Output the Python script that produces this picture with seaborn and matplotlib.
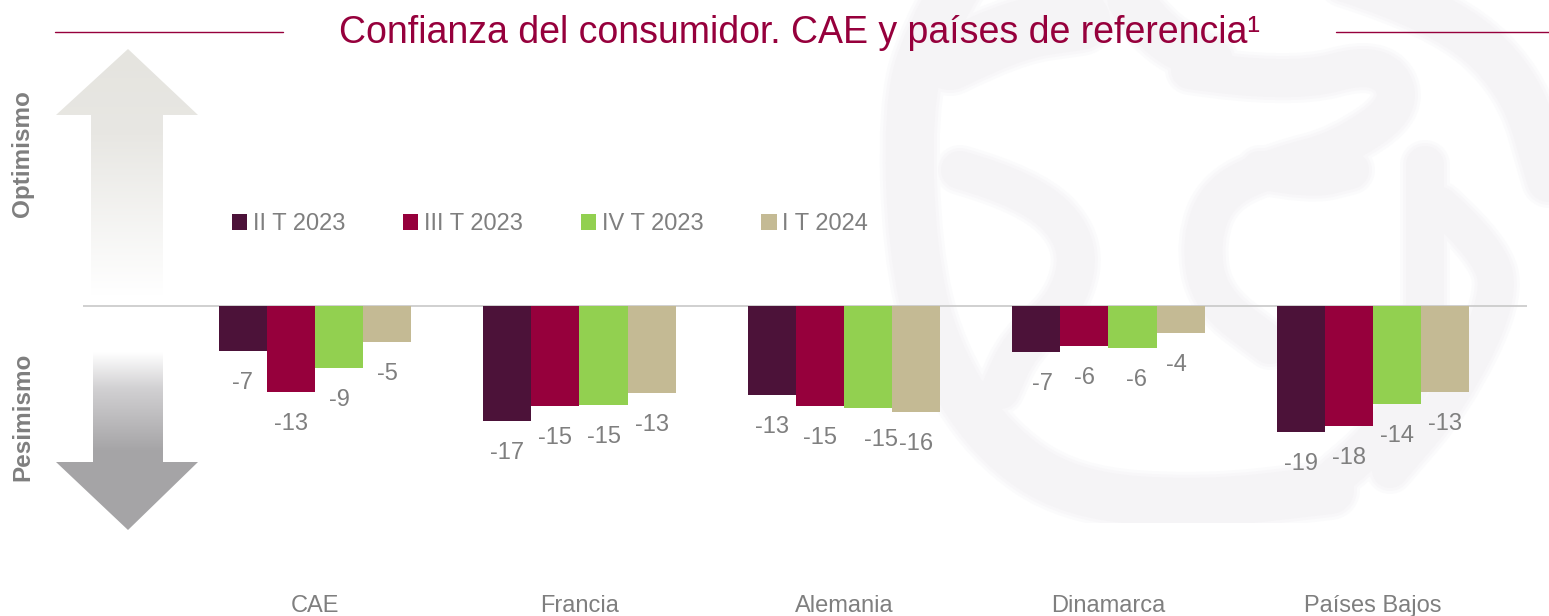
import numpy as np
import pandas as pd
import matplotlib
matplotlib.use('Agg')
import matplotlib.pyplot as plt
import seaborn as sns
from matplotlib.path import Path
from matplotlib.patches import PathPatch, Polygon
from matplotlib.colors import LinearSegmentedColormap

# datos del grafico
paises = ['CAE', 'Francia', 'Alemania', 'Dinamarca', 'Países Bajos']
t2_2023 = [-6.6, -16.9, -13.1, -6.8, -18.6]
t3_2023 = [-12.6, -14.7, -14.7, -5.9, -17.6]
t4_2023 = [-9.1, -14.6, -15.0, -6.2, -14.4]
t1_2024 = [-5.3, -12.8, -15.6, -4.0, -12.6]
trimestres = ['II T 2023', 'III T 2023', 'IV T 2023', 'I T 2024']
colores = ['#4c1239', '#96003c', '#92d050', '#c4ba94']

W, H = 1549, 616
GRIS = '#7f7f7f'
VINO = '#96003c'

df = pd.DataFrame({'pais': paises, trimestres[0]: t2_2023, trimestres[1]: t3_2023,
                   trimestres[2]: t4_2023, trimestres[3]: t1_2024})
df = df.melt(id_vars='pais', var_name='trimestre', value_name='valor')

sns.set_theme(style='white')
plt.rcParams['font.family'] = ['Liberation Sans', 'DejaVu Sans']

fig = plt.figure(figsize=(W / 100, H / 100), dpi=100)

# capa de fondo en pixeles: logo, flechas, lineas del titulo
bg = fig.add_axes([0, 0, 1, 1])
bg.set_xlim(0, W)
bg.set_ylim(H, 0)
bg.axis('off')

# la marca de agua se corta abajo en y=523
corte = plt.Rectangle((0, 0), W, 523, transform=bg.transData)


def trazo(puntos, ancho):
    # curva suave por los puntos medios, con borde difuso por capas
    p = np.array(puntos, dtype=float)
    verts = [p[0]]
    codes = [Path.MOVETO]
    for i in range(1, len(p) - 1):
        verts += [p[i], (p[i] + p[i + 1]) / 2]
        codes += [Path.CURVE3, Path.CURVE3]
    verts.append(p[-1])
    codes.append(Path.LINETO)
    for extra, color in [(12, '#fbfbfc'), (6, '#f8f7f9'), (0, '#f5f4f6')]:
        parche = PathPatch(Path(verts, codes), fill=False, ec=color, lw=(ancho + extra) * 0.72,
                           capstyle='round', joinstyle='round', zorder=1 + extra * -0.01)
        bg.add_patch(parche)
        parche.set_clip_path(corte)


# marca de agua, aproximada
trazo([(960, -20), (925, 40), (908, 110), (912, 250), (935, 350), (990, 440), (1070, 495), (1200, 505), (1330, 490)], 48)
trazo([(950, 60), (1010, 30), (1080, 20)], 60)
trazo([(960, 170), (1030, 190), (1080, 240), (1070, 300), (1020, 345), (1000, 390)], 38)
trazo([(1190, 70), (1290, 85), (1380, 60), (1405, 105), (1340, 150), (1280, 165), (1220, 190), (1200, 240), (1210, 300), (1270, 345)], 38)
trazo([(1130, 0), (1160, 40), (1210, 60)], 45)
trazo([(1425, 165), (1425, 260), (1425, 350), (1390, 430), (1320, 490)], 38)
trazo([(1345, -20), (1440, 10), (1520, 80), (1549, 180)], 44)
trazo([(1440, 205), (1490, 250), (1500, 300), (1450, 400), (1390, 470)], 36)
trazo([(1260, 170), (1310, 180), (1350, 170)], 38)


def flecha(poly, y0, y1, tramos):
    # flecha con degradado vertical recortado a la silueta
    cmap = LinearSegmentedColormap.from_list('f', tramos)
    xs = [q[0] for q in poly]
    img = bg.imshow(np.linspace(0, 1, 256)[:, None], cmap=cmap, aspect='auto',
                    extent=(min(xs), max(xs), y1, y0), zorder=2)
    img.set_clip_path(Polygon(poly, transform=bg.transData))


flecha([(128, 49), (198, 115), (163, 115), (163, 295), (91, 295), (91, 115), (56, 115)],
       49, 295, [(0, '#e5e4df'), (0.35, '#e8e7e3'), (1, '#ffffff')])
flecha([(93, 352), (163, 352), (163, 462), (198, 462), (128, 530), (56, 462), (93, 462)],
       352, 530, [(0, '#ffffff'), (0.2, '#d2d1d3'), (0.55, '#a6a5a7'), (1, '#a5a4a6')])
bg.set_xlim(0, W)
bg.set_ylim(H, 0)

bg.plot([55, 283], [31.5, 31.5], color=VINO, lw=1)
bg.plot([1336, 1549], [31.5, 31.5], color=VINO, lw=1)
bg.text(800, 33, 'Confianza del consumidor. CAE y países de referencia¹', color=VINO,
        fontsize=27, ha='center', va='center')
bg.text(23, 154, 'Optimismo', rotation=90, color=GRIS, fontsize=17.5, fontweight='bold', ha='center', va='center')
bg.text(23, 417, 'Pesimismo', rotation=90, color=GRIS, fontsize=17.5, fontweight='bold', ha='center', va='center')

# grafico: 264.5 px entre paises, 6.8 px por unidad, cero en y=306
ax = fig.add_axes([83 / W, 1 - 580 / H, (1527 - 83) / W, (580 - 40) / H])
ax.patch.set_alpha(0)
sns.barplot(data=df, x='pais', y='valor', hue='trimestre', hue_order=trimestres,
            palette=colores, saturation=1, width=0.726, gap=0, linewidth=0, ax=ax)
ax.set_xlim((83 - 315) / 264.5, (1527 - 315) / 264.5)
ax.set_ylim(-(580 - 306) / 6.8, (306 - 40) / 6.8)
ax.set_xlabel('')
ax.set_ylabel('')
ax.set_yticks([])
sns.despine(ax=ax, left=True, bottom=True)
ax.axhline(0, color='#c8c8c8', lw=1.2, zorder=0)
ax.tick_params(axis='x', length=0, pad=11, labelsize=17, labelcolor=GRIS)

for j, cont in enumerate(ax.containers):
    etiquetas = ax.bar_label(cont, fmt='%.0f', padding=15, fontsize=17, color=GRIS)
    for i, et in enumerate(etiquetas):
        # etiquetas movidas a mano en el original
        if (i, j) == (2, 2):
            et.xyann = (9, et.xyann[1])
        if (i, j) == (3, 0):
            et.xyann = (4, et.xyann[1])
        if (i, j) == (3, 2):
            et.xyann = (3, et.xyann[1])
        if (i, j) == (3, 3):
            et.xyann = (-3, et.xyann[1])

ax.legend(loc='center left', bbox_to_anchor=(232 / W, 1 - 224 / H), bbox_transform=fig.transFigure,
          ncol=4, frameon=False, fontsize=17, labelcolor=GRIS, handlelength=0.64, handleheight=0.64,
          handletextpad=0.25, columnspacing=2.45, borderpad=0, borderaxespad=0, title=None)

fig.savefig('out.png', dpi=100)
